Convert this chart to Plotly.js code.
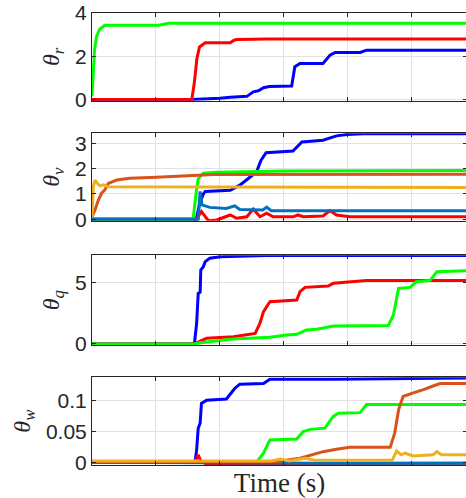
<!DOCTYPE html>
<html>
<head>
<meta charset="utf-8">
<script src="https://cdn.plot.ly/plotly-3.0.1.min.js"></script>
<style>html,body{margin:0;padding:0;overflow:hidden;background:#fff;}</style>
</head>
<body>
<div id="chart" style="width:468px;height:498px;"></div>
<script>
// ---- Data (time in grid units) ----
const yLabels = ['θ<sub>r</sub>', 'θ<sub>v</sub>', 'θ<sub>q</sub>', 'θ<sub>w</sub>'];
const xLabel = 'Time (s)';

// theta_r
const rBlueX = [0, 1.56, 2.0, 2.16, 2.42, 2.52, 2.6, 2.68, 2.77, 3.12, 3.17, 3.25, 3.61, 3.72, 3.8, 4.19, 4.29, 5.9];
const rBlueY = [0, 0, 0.05, 0.1, 0.14, 0.35, 0.4, 0.54, 0.6, 0.615, 1.51, 1.66, 1.66, 2.05, 2.17, 2.17, 2.28, 2.28];
const rRedX = [0, 1.56, 1.6, 1.64, 1.68, 1.77, 2.16, 2.22, 2.26, 2.67, 2.75, 5.9];
const rRedY = [0, 0, 0.8, 1.9, 2.43, 2.62, 2.62, 2.74, 2.77, 2.78, 2.8, 2.8];
const rGreenX = [0, 0.02, 0.04, 0.07, 0.12, 0.2, 1.05, 1.12, 1.2, 5.9];
const rGreenY = [0.15, 1.5, 2.3, 2.9, 3.25, 3.43, 3.43, 3.48, 3.52, 3.52];

// theta_v
const vBlueX = [0, 1.63, 1.68, 1.74, 1.77, 2.16, 2.31, 2.44, 2.57, 2.64, 2.72, 3.14, 3.28, 3.61, 3.82, 3.98, 4.24, 5.9];
const vBlueY = [0, 0, 0.6, 1.0, 1.1, 1.15, 1.35, 1.61, 1.87, 2.33, 2.63, 2.7, 3.06, 3.13, 3.3, 3.35, 3.38, 3.38];
const vRedX = [0, 1.63, 1.71, 1.82, 1.95, 2.16, 2.26, 2.42, 2.52, 2.625, 2.73, 2.83, 3.15, 3.22, 3.3, 3.61, 3.72, 3.82, 4.03, 5.9];
const vRedY = [0, 0, 0.3, -0.06, -0.03, 0.17, 0.04, 0.1, 0.4, 0.1, 0.24, 0.1, 0.1, 0.17, 0.1, 0.13, 0.34, 0.17, 0.1, 0.1];
const vGreenX = [0, 1.58, 1.62, 1.66, 1.74, 1.95, 2.99, 5.9];
const vGreenY = [0, 0, 0.9, 1.6, 1.82, 1.86, 1.91, 1.93];
const vOrangeX = [0, 0.047, 0.099, 0.15, 0.2, 0.255, 0.385, 0.59, 1.01, 1.53, 1.9, 5.9];
const vOrangeY = [0.1, 0.37, 0.76, 1.03, 1.16, 1.42, 1.55, 1.62, 1.66, 1.71, 1.77, 1.78];
const vYellowX = [0, 0.02, 0.047, 0.083, 0.125, 0.18, 0.255, 5.9];
const vYellowY = [0.1, 1.29, 1.55, 1.42, 1.32, 1.36, 1.29, 1.26];
const vMBlueX = [0, 1.66, 1.69, 1.72, 1.84, 2.1, 2.23, 2.31, 2.67, 2.73, 2.8, 5.9];
const vMBlueY = [0, 0, 1.1, 0.57, 0.47, 0.43, 0.53, 0.39, 0.37, 0.48, 0.34, 0.34];

// theta_q
const qBlueX = [0, 1.6, 1.635, 1.66, 1.69, 1.7, 1.74, 1.77, 1.84, 2.0, 2.73, 5.9];
const qBlueY = [0, 0, 1.68, 4.1, 4.2, 6.0, 6.27, 6.68, 6.95, 7.08, 7.17, 7.18];
const qRedX = [0, 1.6, 1.79, 2.21, 2.55, 2.625, 2.68, 2.78, 3.2, 3.25, 3.33, 3.69, 3.77, 4.03, 4.29, 5.9];
const qRedY = [0, 0, 0.46, 0.59, 0.86, 1.68, 2.62, 3.43, 3.57, 4.24, 4.59, 4.7, 4.92, 5.05, 5.15, 5.15];
const qGreenX = [0, 1.6, 1.69, 2.21, 2.78, 3.04, 3.2, 3.35, 3.51, 3.77, 4.63, 4.71, 4.79, 4.97, 5.07, 5.28, 5.39, 5.9];
const qGreenY = [0, 0, 0.1, 0.4, 0.54, 0.73, 0.78, 1.14, 1.19, 1.46, 1.49, 2.35, 4.51, 4.59, 5.05, 5.14, 5.86, 5.95];

// theta_w
const wBlueX = [0, 1.61, 1.635, 1.66, 1.69, 1.71, 1.79, 2.1, 2.23, 2.31, 2.68, 2.78, 3.77, 5.9];
const wBlueY = [0, 0, 0.02, 0.055, 0.063, 0.095, 0.1, 0.102, 0.119, 0.126, 0.127, 0.134, 0.134, 0.136];
const wRedX = [0, 1.6, 1.64, 1.66, 1.7, 1.79, 2.8, 3.5, 5.9];
const wRedY = [0, 0, 0.006, 0.012, 0.002, -0.003, -0.003, -0.002, -0.0015];
const wGreenX = [0, 2.57, 2.68, 2.78, 3.2, 3.3, 3.41, 3.64, 3.77, 3.85, 4.19, 4.29, 5.9];
const wGreenY = [0, 0, 0.0145, 0.036, 0.0376, 0.0495, 0.053, 0.055, 0.074, 0.079, 0.08, 0.093, 0.093];
const wMBlueX = [0, 2.9, 3.3, 3.6, 5.9];
const wMBlueY = [0, -0.001, -0.002, -0.0015, -0.0015];
const wOrangeX = [0, 2.9, 3.25, 3.46, 3.61, 3.82, 4.03, 4.66, 4.73, 4.79, 4.86, 5.02, 5.18, 5.33, 5.44, 5.9];
const wOrangeY = [0.001, 0.001, 0.0065, 0.012, 0.017, 0.021, 0.024, 0.024, 0.047, 0.084, 0.106, 0.112, 0.117, 0.123, 0.127, 0.127];
const wYellowX = [0, 2.8, 2.94, 3.08, 3.33, 3.5, 4.69, 4.76, 4.83, 4.89, 5.02, 5.33, 5.39, 5.46, 5.9];
const wYellowY = [0.002, 0.002, 0.005, 0.002, 0.0065, 0.003, 0.003, 0.018, 0.012, 0.0145, 0.01, 0.012, 0.017, 0.012, 0.012];

const yTicks1 = [0, 2, 4];
const yTicks2 = [0, 1, 2, 3];
const yTicks3 = [0, 5];
const yTicks4 = [0, 0.05, 0.1];
const yTickText4 = ['0', '0.05', '0.1'];

// ---- Styles ----
const SERIF = 'Liberation Serif';
const SANS = 'Liberation Sans';
const C = {blue:'#0000FF', red:'#FF0000', green:'#00FF00', orange:'#D95319', yellow:'#EDB120', mblue:'#0072BD'};
function tr(x, y, color, ax) {
  return {x: x, y: y, type: 'scatter', mode: 'lines', xaxis: 'x' + ax, yaxis: 'y' + ax,
          line: {color: color, width: 3}, hoverinfo: 'skip', showlegend: false};
}
const data = [
  tr(rBlueX, rBlueY, C.blue, ''), tr(rRedX, rRedY, C.red, ''), tr(rGreenX, rGreenY, C.green, ''),
  tr(vBlueX, vBlueY, C.blue, 2), tr(vRedX, vRedY, C.red, 2), tr(vGreenX, vGreenY, C.green, 2),
  tr(vOrangeX, vOrangeY, C.orange, 2), tr(vYellowX, vYellowY, C.yellow, 2), tr(vMBlueX, vMBlueY, C.mblue, 2),
  tr(qBlueX, qBlueY, C.blue, 3), tr(qRedX, qRedY, C.red, 3), tr(qGreenX, qGreenY, C.green, 3),
  tr(wBlueX, wBlueY, C.blue, 4), tr(wRedX, wRedY, C.red, 4), tr(wGreenX, wGreenY, C.green, 4),
  tr(wMBlueX, wMBlueY, C.mblue, 4), tr(wOrangeX, wOrangeY, C.orange, 4), tr(wYellowX, wYellowY, C.yellow, 4)
];

const axCol = '#262626';
function xax(anchor, withTitle) {
  const a = {anchor: anchor, range: [0, 5.86], tick0: 0, dtick: 1, showticklabels: false,
    showline: true, linecolor: axCol, linewidth: 1, mirror: 'ticks', ticks: 'inside', ticklen: 4,
    tickcolor: axCol, showgrid: true, gridcolor: '#e2e2e2', gridwidth: 1, zeroline: false};
  if (withTitle) a.title = {text: xLabel, font: {family: SERIF, size: 27, color: axCol}, standoff: 9};
  return a;
}
function yax(anchor, domain, range, ticks, label, tickText) {
  const a = {anchor: anchor, domain: domain, range: range, tickvals: ticks,
    showline: true, linecolor: axCol, linewidth: 1, mirror: 'ticks', ticks: 'inside', ticklen: 4,
    tickcolor: axCol, showgrid: true, gridcolor: '#e2e2e2', gridwidth: 1, zeroline: false,
    tickfont: {family: SANS, size: 21, color: axCol},
    title: {text: label, font: {family: SERIF, size: 24, color: axCol, style: 'italic'}, standoff: 8}};
  if (tickText) a.ticktext = tickText;
  return a;
}
const layout = {
  width: 468, height: 498,
  margin: {l: 92, r: 1, t: 13, b: 33},
  paper_bgcolor: '#fff', plot_bgcolor: '#fff',
  font: {family: SERIF, color: axCol},
  xaxis: xax('y', false), xaxis2: xax('y2', false), xaxis3: xax('y3', false), xaxis4: xax('y4', true),
  yaxis: yax('x', [0.806, 1.0], [-0.06, 4], yTicks1, yLabels[0]),
  yaxis2: yax('x2', [0.5403, 0.7338], [-0.06, 3.4], yTicks2, yLabels[1]),
  yaxis3: yax('x3', [0.265, 0.4642], [-0.1, 7.2], yTicks3, yLabels[2]),
  yaxis4: yax('x4', [0, 0.194], [-0.0045, 0.137], yTicks4, yLabels[3], yTickText4)
};
Plotly.newPlot('chart', data, layout, {displayModeBar: false, staticPlot: true});
</script>
</body>
</html>
